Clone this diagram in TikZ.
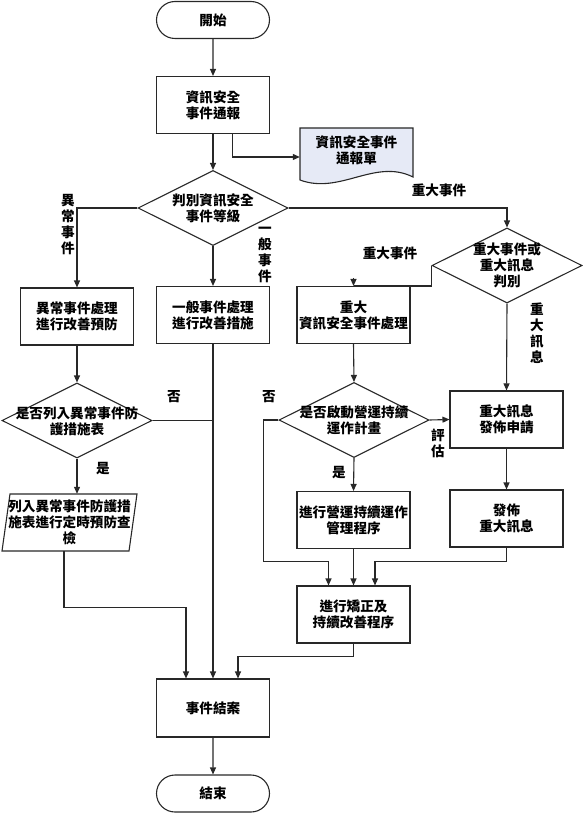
\documentclass[tikz,border=0pt]{standalone}
\usepackage{fontspec}
\setmainfont{Noto Sans CJK TC}
\usetikzlibrary{arrows.meta,shapes.geometric,shapes.misc,calc}
\definecolor{ln}{RGB}{40,40,40}
\definecolor{docfill}{RGB}{230,234,246}
\begin{document}
\begin{tikzpicture}[x=1pt,y=-1pt,
  cjk/.style={font=\bfseries\fontsize{13.6}{16}\selectfont},
  box/.style={draw=ln, line width=1.1pt, rectangle, minimum width=113pt, minimum height=57pt, inner sep=0pt, align=center, cjk},
  term/.style={box, rounded rectangle, minimum height=37pt},
  dec/.style={draw=ln, line width=1.1pt, diamond, minimum width=150pt, minimum height=75pt, inner sep=0pt},
  txt/.style={align=center, inner sep=0pt, cjk},
  conn/.style={draw=ln, line width=1.1pt},
  arr/.style={conn, -{Triangle[length=7pt,width=6pt]}}
]
\useasboundingbox (0,0) rectangle (583,813);

% terminators and boxes
\node[term] (start) at (213,20) {開始};
\node[box]  (b1)    at (213,105) {資訊安全\\事件通報};
\node[box]  (babn)  at (77,316.5) {異常事件處理\\進行改善預防};
\node[box]  (bgen)  at (213,315) {一般事件處理\\進行改善措施};
\node[box]  (bmaj)  at (353.5,315) {重大\\資訊安全事件處理};
\node[box]  (breq)  at (506.5,419.5) {重大訊息\\發佈申請};
\node[box]  (bbcp)  at (353.5,520) {進行營運持續運作\\管理程序};
\node[box]  (bpub)  at (506.5,518.5) {發佈\\重大訊息};
\node[box]  (bfix)  at (353.5,614.5) {進行矯正及\\持續改善程序};
\node[box, minimum height=58pt] (bclose) at (213,708) {事件結案};
\node[term] (end)   at (213,793.5) {結束};

% document shape
\draw[conn, fill=docfill] (300,128) -- (413,128) -- (413,177)
   .. controls (375,158) and (340,195) .. (300,180) -- cycle;
\node[inner sep=0pt, minimum width=113pt, minimum height=58pt] (doc) at (356.5,157) {};
\node[txt] at (356.5,150) {資訊安全事件\\通報單};

% decisions
\node[dec] (d1) at (213,208) {};
\node[txt] at (d1) {判別資訊安全\\事件等級};
\node[dec] (d2) at (507,265.5) {};
\node[txt] at (d2) {重大事件或\\重大訊息\\判別};
\node[dec] (d3) at (77,420.5) {};
\node[txt] at ($(d3)+(0,0.5)$) {是否列入異常事件防\\護措施表};
\node[dec] (d4) at (354,420) {};
\node[txt] at (d4) {是否啟動營運持續\\運作計畫};

% parallelogram
\draw[conn] (10,494) -- (137,494) -- (129,551) -- (2,551) -- cycle;
\node[txt, minimum width=127pt, minimum height=57pt] (para) at (69.5,522.5) {列入異常事件防護措\\施表進行定時預防查\\檢};

% connectors
\draw[arr] (start) -- (b1);
\draw[arr] (b1) -- (d1);
\draw[arr] ([xshift=19.5pt]b1.south) |- (doc.west);
\draw[arr] (d1.west) -| (babn.north);
\draw[arr] (d1.south) -- (bgen.north);
\draw[arr] (d1.east) -| (d2.north);
\draw[conn] (d2.west) |- (bmaj.north);
\draw[arr] ([yshift=8pt]bmaj.north) -- (bmaj.north);
\draw[arr] (d2.south) -- (breq.north);
\draw[arr] (babn.south) -- (d3.north);
\draw[conn] (d3.east) -- (d3.east -| bgen.south);
\draw[arr] (bgen.south) -- (bclose.north);
\draw[arr] (d3.south) -- (d3.south |- para.north);
\draw[arr] ([xshift=-5.5pt]para.south) |- ([xshift=-27pt,yshift=71pt]bclose.north) -- ([xshift=-27pt]bclose.north);
\draw[arr] (bmaj.south) -- (d4.north);
\draw[arr] (d4.east) -- (breq.west);
\draw[arr] (d4.west) -- ++(-15,0) |- ([xshift=-25pt,yshift=24pt]bfix.north) -- ([xshift=-25pt]bfix.north);
\draw[arr] (d4.south) -- (bbcp.north);
\draw[arr] (bbcp.south) -- (bfix.north);
\draw[arr] (breq.south) -- (bpub.north);
\draw[arr] (bpub.south) |- ([xshift=21.5pt,yshift=24pt]bfix.north) -- ([xshift=21.5pt]bfix.north);
\draw[arr] (bfix.south) |- ([xshift=25pt,yshift=22pt]bclose.north) -- ([xshift=25pt]bclose.north);
\draw[arr] (bclose) -- (end);

% labels
\node[txt] at (68,225) {異\\常\\事\\件};
\node[txt] at (265,255) {一\\般\\事\\件};
\node[txt] at (439,190) {重大事件};
\node[txt] at (390,253) {重大事件};
\node[txt] at (537,333) {重\\大\\訊\\息};
\node[txt] at (174,397) {否};
\node[txt] at (103,469) {是};
\node[txt] at (269,397) {否};
\node[txt] at (438,443) {評\\估};
\node[txt] at (339,473) {是};
\end{tikzpicture}
\end{document}
